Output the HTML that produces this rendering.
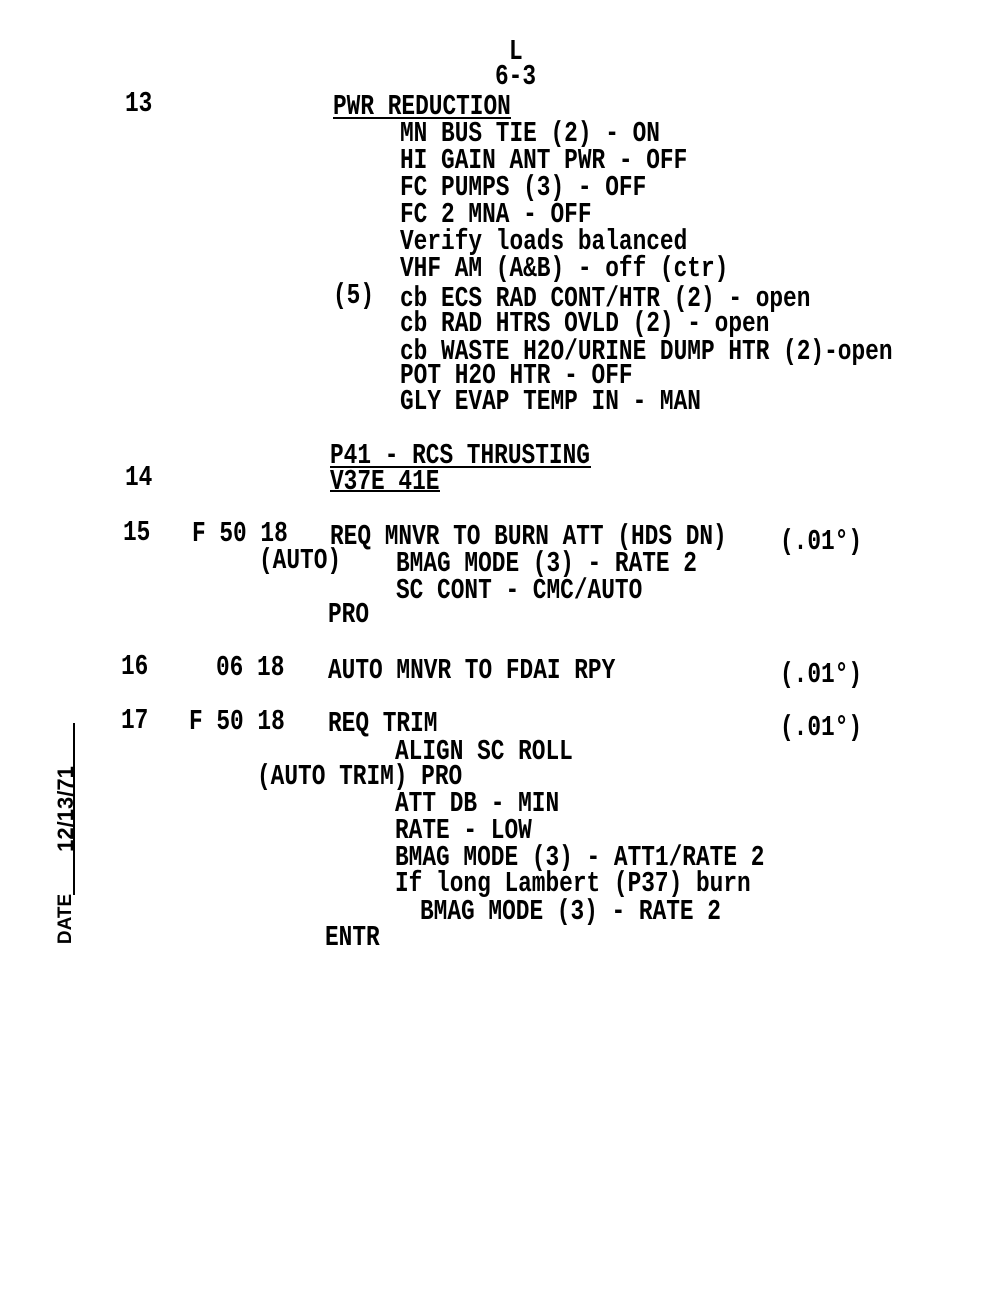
<!DOCTYPE html>
<html><head><meta charset="utf-8"><style>
html,body{margin:0;padding:0;background:#fff;}
body{width:1000px;height:1300px;position:relative;overflow:hidden;}
.t{position:absolute;white-space:pre;font-family:"Liberation Mono",monospace;font-size:22.8px;line-height:22px;font-weight:bold;color:#000;transform:scaleY(1.25);transform-origin:0 17px;letter-spacing:0}
.l{position:absolute;height:2px;background:#000;}
.r{position:absolute;height:20px;line-height:20px;text-align:center;transform:rotate(-90deg);font-family:"Liberation Sans",sans-serif;font-weight:bold;white-space:pre;color:#000}
</style></head><body>
<div class="t" style="left:509px;top:42px">L</div>
<div class="t" style="left:495px;top:67px">6-3</div>
<div class="t" style="left:125px;top:94px">13</div>
<div class="t" style="left:333px;top:97px">PWR REDUCTION</div>
<div class="l" style="left:333px;top:117px;width:178px"></div>
<div class="t" style="left:400px;top:124px">MN BUS TIE (2) - ON</div>
<div class="t" style="left:400px;top:151px">HI GAIN ANT PWR - OFF</div>
<div class="t" style="left:400px;top:178px">FC PUMPS (3) - OFF</div>
<div class="t" style="left:400px;top:205px">FC 2 MNA - OFF</div>
<div class="t" style="left:400px;top:232px">Verify loads balanced</div>
<div class="t" style="left:400px;top:259px">VHF AM (A&amp;B) - off (ctr)</div>
<div class="t" style="left:333px;top:286px">(5)</div>
<div class="t" style="left:400px;top:289px">cb ECS RAD CONT/HTR (2) - open</div>
<div class="t" style="left:400px;top:314px">cb RAD HTRS OVLD (2) - open</div>
<div class="t" style="left:400px;top:342px">cb WASTE H2O/URINE DUMP HTR (2)-open</div>
<div class="t" style="left:400px;top:366px">POT H2O HTR - OFF</div>
<div class="t" style="left:400px;top:392px">GLY EVAP TEMP IN - MAN</div>
<div class="t" style="left:330px;top:446px">P41 - RCS THRUSTING</div>
<div class="l" style="left:330px;top:466px;width:261px"></div>
<div class="t" style="left:125px;top:468px">14</div>
<div class="t" style="left:330px;top:472px">V37E 41E</div>
<div class="l" style="left:330px;top:490px;width:110px"></div>
<div class="t" style="left:123px;top:523px">15</div>
<div class="t" style="left:192px;top:524px">F 50 18</div>
<div class="t" style="left:330px;top:527px">REQ MNVR TO BURN ATT (HDS DN)</div>
<div class="t" style="left:780px;top:532px">(.01°)</div>
<div class="t" style="left:259px;top:551px">(AUTO)</div>
<div class="t" style="left:396px;top:554px">BMAG MODE (3) - RATE 2</div>
<div class="t" style="left:396px;top:581px">SC CONT - CMC/AUTO</div>
<div class="t" style="left:328px;top:605px">PRO</div>
<div class="t" style="left:121px;top:657px">16</div>
<div class="t" style="left:216px;top:658px">06 18</div>
<div class="t" style="left:328px;top:661px">AUTO MNVR TO FDAI RPY</div>
<div class="t" style="left:780px;top:665px">(.01°)</div>
<div class="t" style="left:121px;top:711px">17</div>
<div class="t" style="left:189px;top:712px">F 50 18</div>
<div class="t" style="left:328px;top:714px">REQ TRIM</div>
<div class="t" style="left:780px;top:718px">(.01°)</div>
<div class="t" style="left:395px;top:742px">ALIGN SC ROLL</div>
<div class="t" style="left:257px;top:767px">(AUTO TRIM) PRO</div>
<div class="t" style="left:395px;top:794px">ATT DB - MIN</div>
<div class="t" style="left:395px;top:821px">RATE - LOW</div>
<div class="t" style="left:395px;top:848px">BMAG MODE (3) - ATT1/RATE 2</div>
<div class="t" style="left:395px;top:874px">If long Lambert (P37) burn</div>
<div class="t" style="left:420px;top:902px">BMAG MODE (3) - RATE 2</div>
<div class="t" style="left:325px;top:928px">ENTR</div>
<div style="position:absolute;left:73px;top:723px;width:2px;height:172px;background:#000"></div>
<div class="r" style="left:36px;top:909px;width:60px;font-size:19px">DATE</div>
<div class="r" style="left:11px;top:799px;width:110px;font-size:22px">12/13/71</div>
</body></html>
